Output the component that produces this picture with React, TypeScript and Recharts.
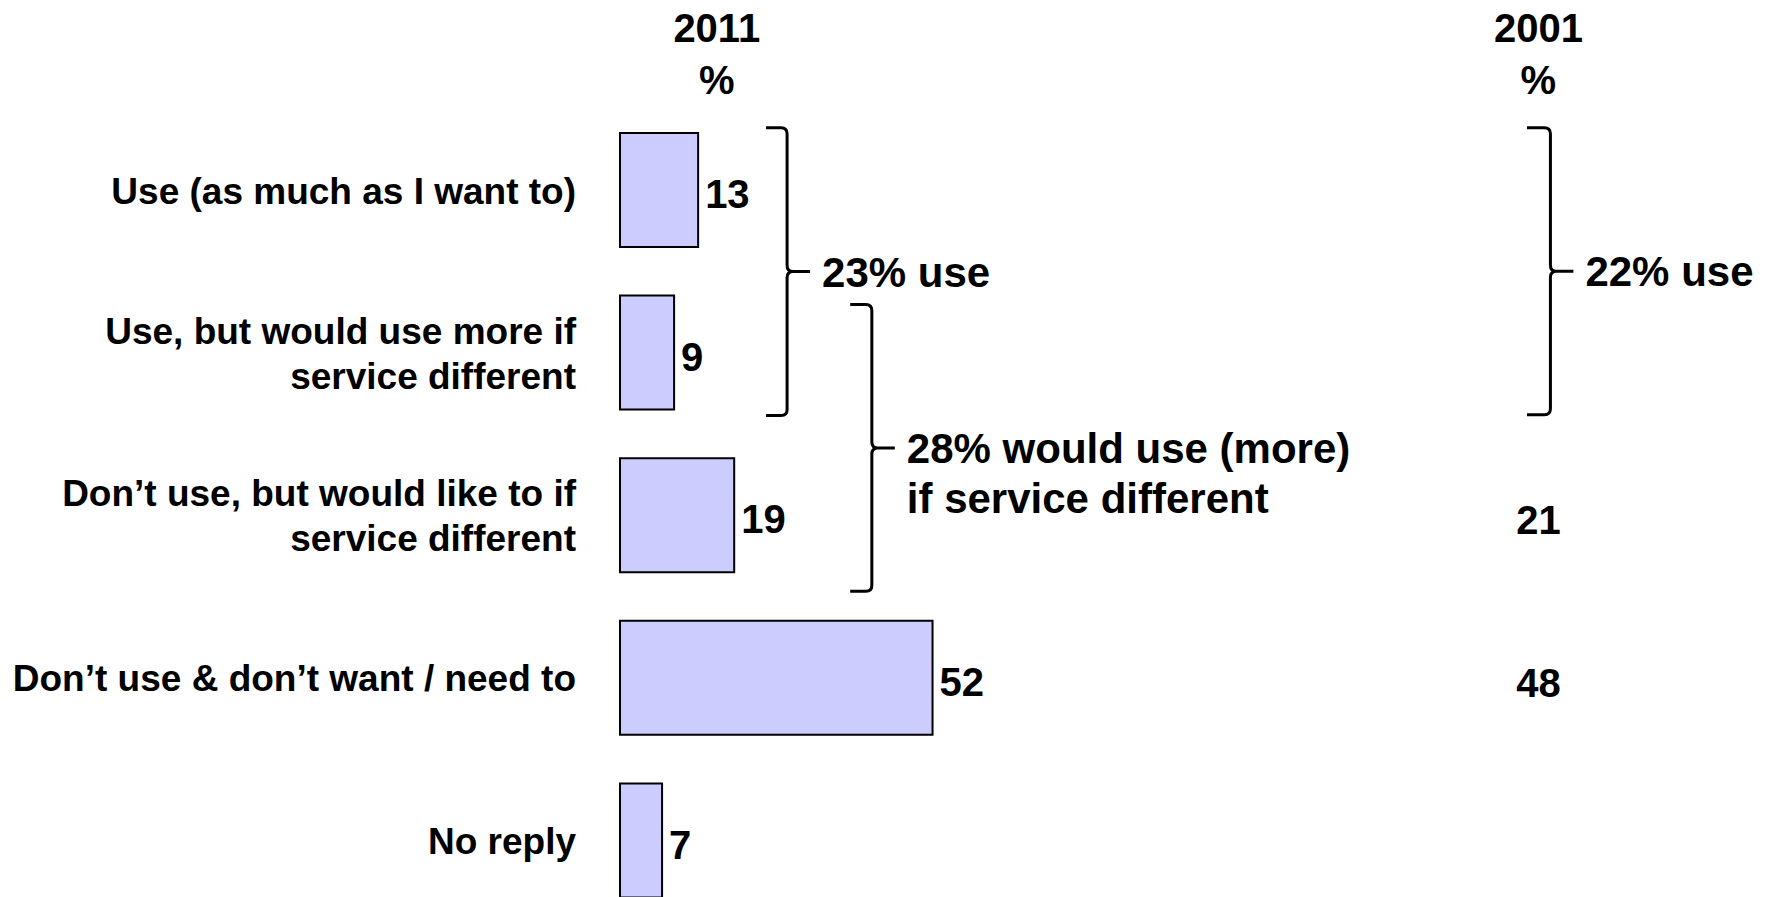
import React from 'react';
import { BarChart, Bar, XAxis, YAxis, LabelList, ReferenceArea, ReferenceDot } from 'recharts';

// --- data ---
const categories = [
  'Use (as much as I want to)',
  'Use, but would use more if\nservice different',
  'Don’t use, but would like to if\nservice different',
  'Don’t use & don’t want / need to',
  'No reply',
];
const values2011 = [13, 9, 19, 52, 7];
const values2001: (number | null)[] = [null, null, 21, 48, null];
const years = ['2011', '2001'];
const braceLabels = ['23% use', '28% would use (more)\nif service different', '22% use'];

// --- layout, in axis units (x = percent scale, y = category rows) ---
const YEAR_COL_X = [16.1, 152.8];
const BRACES = [
  { x1: 24.3, x2: 27.8, y1: 0.115, y2: 1.885 },
  { x1: 38.3, x2: 41.9, y1: 1.203, y2: 2.966 },
  { x1: 150.9, x2: 154.8, y1: 0.115, y2: 1.88 },
];

const FONT = '"Liberation Sans", Arial, Helvetica, sans-serif';
const BAR_FILL = '#CCCCFF';

const rows = categories.map((label, i) => ({ label, v2011: values2011[i] }));

const CategoryTick = (props: any) => {
  const { x, y, payload } = props;
  const lines = String(payload.value).split('\n');
  const lh = 45;
  const top = y - ((lines.length - 1) * lh) / 2;
  return (
    <text x={x - 44} y={top} textAnchor="end" fontSize={37} fontWeight="bold" fontFamily={FONT} fill="#000">
      {lines.map((t, i) => (
        <tspan key={i} x={x - 44} dy={i === 0 ? '0.36em' : lh}>{t}</tspan>
      ))}
    </text>
  );
};

// curly brace drawn inside the ReferenceArea box, label to the right of the tip
const braceShape = (label: string) => (p: any) => {
  const { x, y, width, height } = p;
  const xv = x + width;
  const y1 = y + height;
  const ym = y + height / 2;
  const r = 6;
  const tip = 23;
  const d =
    `M${x},${y} L${xv - r},${y} Q${xv},${y} ${xv},${y + r} L${xv},${ym - r} Q${xv},${ym} ${xv + r},${ym} ` +
    `L${xv + tip},${ym} M${xv + r},${ym} Q${xv},${ym} ${xv},${ym + r} L${xv},${y1 - r} Q${xv},${y1} ${xv - r},${y1} L${x},${y1}`;
  const lines = label.split('\n');
  const tx = xv + tip + 12;
  return (
    <g>
      <path d={d} fill="none" stroke="#000" strokeWidth={3} />
      <text x={tx} y={ym} fontSize={42} fontWeight="bold" fontFamily={FONT} fill="#000">
        {lines.map((t, i) => (
          <tspan key={i} x={tx} dy={i === 0 ? '0.36em' : 50}>{t}</tspan>
        ))}
      </text>
    </g>
  );
};

const headerShape = (year: string) => (p: any) => (
  <text x={p.cx} y={p.cy} textAnchor="middle" fontSize={40} fontWeight="bold" fontFamily={FONT} fill="#000">
    <tspan x={p.cx} dy="0.36em">{year}</tspan>
    <tspan x={p.cx} dy={52}>%</tspan>
  </text>
);

const valueShape = (v: number) => (p: any) => (
  <text x={p.cx} y={p.cy} dy="0.46em" textAnchor="middle" fontSize={40} fontWeight="bold" fontFamily={FONT} fill="#000">
    {v}
  </text>
);

export default function App() {
  return (
    <div style={{ position: 'fixed', left: 0, top: 0, width: 1770, height: 897, overflow: 'hidden', background: '#fff' }}>
      <BarChart
        layout="vertical"
        width={1770}
        height={940}
        data={rows}
        margin={{ top: 109, right: 2, bottom: 18, left: 0 }}
        barSize={114}
      >
        <XAxis type="number" domain={[0, 191]} hide />
        <YAxis
          type="category"
          dataKey="label"
          width={620}
          tick={CategoryTick}
          axisLine={false}
          tickLine={false}
          tickSize={0}
          tickMargin={0}
          interval={0}
        />
        {/* row scale for annotations: 0 = top of first row, 5 = bottom of last */}
        <YAxis yAxisId="n" type="number" dataKey="v2011" domain={[0, 5]} allowDataOverflow hide />

        <Bar dataKey="v2011" fill={BAR_FILL} stroke="#000" strokeWidth={2} isAnimationActive={false}>
          <LabelList
            dataKey="v2011"
            position="right"
            offset={7}
            dy={4}
            fill="#000"
            fontSize={40}
            fontWeight="bold"
            fontFamily={FONT}
          />
        </Bar>

        {years.map((yr, k) => (
          <ReferenceDot
            key={yr}
            yAxisId="n"
            x={YEAR_COL_X[k]}
            y={-0.5}
            r={0}
            ifOverflow="visible"
            shape={headerShape(yr)}
          />
        ))}

        {values2001.map((v, i) =>
          v == null ? null : (
            <ReferenceDot
              key={'v' + i}
              yAxisId="n"
              x={YEAR_COL_X[1]}
              y={i + 0.5}
              r={0}
              ifOverflow="visible"
              shape={valueShape(v)}
            />
          )
        )}

        {BRACES.map((b, i) => (
          <ReferenceArea
            key={'b' + i}
            yAxisId="n"
            x1={b.x1}
            x2={b.x2}
            y1={b.y1}
            y2={b.y2}
            ifOverflow="visible"
            shape={braceShape(braceLabels[i])}
          />
        ))}
      </BarChart>
    </div>
  );
}
